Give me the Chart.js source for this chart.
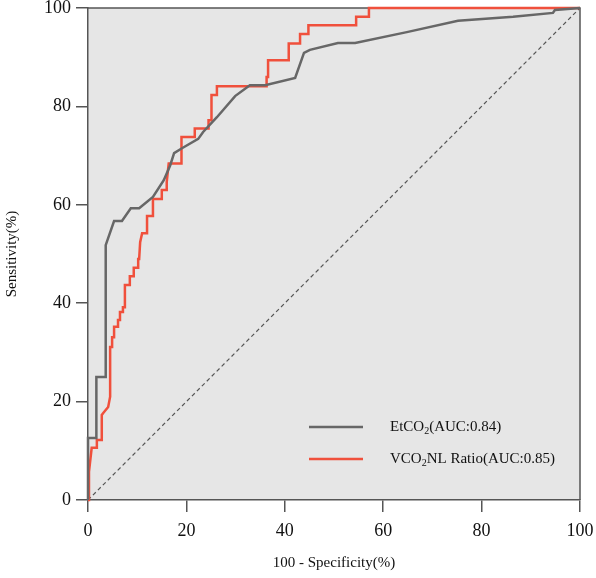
<!DOCTYPE html>
<html lang="en">
<head>
  <meta charset="UTF-8" />
  <title>ROC curves</title>
  <script src="https://cdn.jsdelivr.net/npm/chart.js"></script>
  <style>
    body { margin: 0; background: #fff; }
    #wrap { width: 596px; height: 578px; }
  </style>
</head>
<body>
  <div id="wrap"><canvas id="roc" width="596" height="578"></canvas></div>

  <script>
    // ROC data (x = 100 - specificity, y = sensitivity)
    const etco2X = [0, 0, 1.7, 1.7, 3.6, 3.6, 5.3, 6.9, 8.7, 10.4, 13.2, 15.4, 16.7, 17.5, 19.1, 22.4, 23.4,
      26.2, 29.9, 32.9, 36, 42.1, 43.9, 45.1, 50.8, 54.3, 64.8, 75.2, 86.4, 94.5, 94.9, 100];
    const etco2Y = [0, 12.6, 12.6, 25, 25, 51.8, 56.7, 56.7, 59.3, 59.3, 61.6, 65, 68, 70.5, 71.5, 73.4, 74.8,
      77.8, 82.1, 84.3, 84.3, 85.8, 90.9, 91.5, 92.9, 92.9, 95.1, 97.4, 98.2, 99, 99.6, 100];

    const vcoX = [0, 0.2, 0.75, 1.8, 1.8, 2.8, 2.8, 3.1, 4.1, 4.5, 4.5, 4.9, 4.9, 5.3, 5.3, 6.1, 6.1, 6.5, 6.5,
      7.1, 7.1, 7.5, 7.5, 8.5, 8.5, 9.3, 9.3, 10.2, 10.2, 10.4, 10.6, 11, 12, 12, 13.2, 13.2, 15, 15, 16, 16,
      16.4, 19, 19, 21.7, 21.7, 24.5, 24.5, 25.1, 25.1, 26.2, 26.2, 36.3, 36.3, 36.6, 36.6, 40.8, 40.8,
      43.1, 43.1, 44.8, 44.8, 54.5, 54.5, 57.1, 57.1, 100];
    const vcoY = [0, 5.7, 10.6, 10.6, 12.2, 12.2, 17.3, 17.7, 18.9, 21, 31.1, 31.1, 33.1, 33.1, 35.2, 35.2, 36.6,
      36.6, 38.2, 38.2, 39.2, 39.2, 43.7, 43.7, 45.5, 45.5, 47.2, 47.2, 49, 49, 52.4, 54.2, 54.2, 57.7, 57.7,
      61.2, 61.2, 63, 63, 64.6, 68.4, 68.4, 73.8, 73.8, 75.5, 75.5, 77.2, 77.2, 82.3, 82.3, 84.1, 84.1, 86,
      86, 89.4, 89.4, 92.8, 92.8, 94.7, 94.7, 96.5, 96.5, 98.2, 98.2, 100, 100];

    const refX = [0, 100];
    const refY = [0, 100];

    const labels = ['EtCO₂(AUC:0.84)', 'VCO₂NL Ratio(AUC:0.85)'];
    const tickValues = [0, 20, 40, 60, 80, 100];

    const toPoints = (xs, ys) => xs.map((x, i) => ({ x: x, y: ys[i] }));
    const serif = '"Liberation Serif", "Times New Roman", serif';
    const axisColor = '#555555';

    // gray plot background + top/right frame
    const plotFrame = {
      id: 'plotFrame',
      beforeDraw(chart) {
        const a = chart.chartArea, ctx = chart.ctx;
        ctx.save();
        ctx.fillStyle = '#e6e6e6';
        ctx.fillRect(a.left, a.top, a.right - a.left, a.bottom - a.top);
        ctx.restore();
      },
      beforeDatasetsDraw(chart) {
        const a = chart.chartArea, ctx = chart.ctx;
        ctx.save();
        ctx.strokeStyle = axisColor;
        ctx.lineWidth = 1.5;
        ctx.beginPath();
        ctx.moveTo(a.left, a.top);
        ctx.lineTo(a.right, a.top);
        ctx.lineTo(a.right, a.bottom);
        ctx.stroke();
        ctx.restore();
      }
    };

    // text with "₂" drawn as a real subscript
    function drawSubText(ctx, text, x, y, size) {
      const parts = text.split('₂');
      parts.forEach((p, i) => {
        ctx.font = size + 'px ' + serif;
        ctx.fillText(p, x, y);
        x += ctx.measureText(p).width;
        if (i < parts.length - 1) {
          ctx.font = Math.round(size * 0.65) + 'px ' + serif;
          ctx.fillText('2', x, y + size * 0.28);
          x += ctx.measureText('2').width;
        }
      });
    }

    // legend inside the plot, bottom right
    const insideLegend = {
      id: 'insideLegend',
      afterDraw(chart) {
        const ctx = chart.ctx;
        const rows = [0, 1];
        ctx.save();
        rows.forEach((di, i) => {
          const ds = chart.data.datasets[di];
          const y = 427 + i * 32;
          ctx.strokeStyle = ds.borderColor;
          ctx.lineWidth = 2.5;
          ctx.beginPath();
          ctx.moveTo(309, y);
          ctx.lineTo(363, y);
          ctx.stroke();
          ctx.fillStyle = '#111';
          ctx.textBaseline = 'middle';
          ctx.textAlign = 'left';
          drawSubText(ctx, ds.label, 390, y, 15);
        });
        ctx.restore();
      }
    };

    // keep the plot box where the figure has it, even if edge labels overflow
    function noEdgePadding(scale) {
      scale.paddingTop = 0;
      scale.paddingBottom = 0;
      scale.paddingLeft = 0;
      scale.paddingRight = 0;
    }

    new Chart(document.getElementById('roc'), {
      type: 'line',
      data: {
        datasets: [
          {
            label: labels[0],
            data: toPoints(etco2X, etco2Y),
            borderColor: '#676767',
            borderWidth: 2.5,
            pointRadius: 0,
            tension: 0,
            clip: 4
          },
          {
            label: labels[1],
            data: toPoints(vcoX, vcoY),
            borderColor: '#f0503c',
            borderWidth: 2.5,
            pointRadius: 0,
            tension: 0,
            clip: 4
          },
          {
            label: 'reference',
            data: toPoints(refX, refY),
            borderColor: '#555555',
            borderWidth: 1.2,
            borderDash: [4, 3],
            pointRadius: 0,
            tension: 0,
            clip: 4
          }
        ]
      },
      options: {
        responsive: false,
        animation: false,
        layout: { padding: { top: 8, right: 16, bottom: 0, left: 0 } },
        plugins: {
          legend: { display: false },
          tooltip: { enabled: false }
        },
        scales: {
          x: {
            type: 'linear',
            min: 0,
            max: 100,
            afterFit(scale) { scale.height = 78; noEdgePadding(scale); },
            afterBuildTicks(scale) { scale.ticks = tickValues.map(v => ({ value: v })); },
            border: { display: true, color: axisColor, width: 1.5 },
            grid: { drawOnChartArea: false, tickLength: 12, color: axisColor, lineWidth: 1.5 },
            ticks: { color: '#111', padding: 8, font: { family: serif, size: 18 } },
            title: {
              display: true,
              text: '100 - Specificity(%)',
              color: '#111',
              padding: { top: 6, bottom: 6 },
              font: { family: serif, size: 15 }
            }
          },
          y: {
            min: 0,
            max: 100,
            afterFit(scale) { scale.width = 88; noEdgePadding(scale); },
            afterBuildTicks(scale) { scale.ticks = tickValues.map(v => ({ value: v })); },
            border: { display: true, color: axisColor, width: 1.5 },
            grid: { drawOnChartArea: false, tickLength: 12, color: axisColor, lineWidth: 1.5 },
            ticks: { color: '#111', padding: 5, font: { family: serif, size: 18 } },
            title: {
              display: true,
              text: 'Sensitivity(%)',
              color: '#111',
              padding: { top: 3, bottom: 3 },
              font: { family: serif, size: 15 }
            }
          }
        }
      },
      plugins: [plotFrame, insideLegend]
    });
  </script>
</body>
</html>
